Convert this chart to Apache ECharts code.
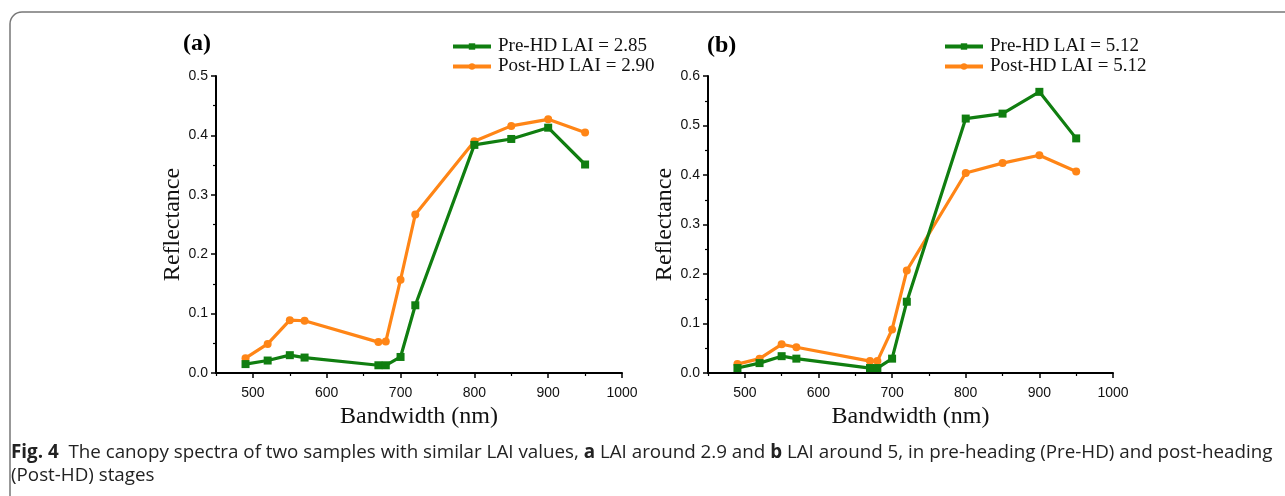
<!DOCTYPE html>
<html>
<head>
<meta charset="utf-8">
<script src="https://cdn.jsdelivr.net/npm/echarts@6/dist/echarts.min.js"></script>
<style>
  html, body { margin: 0; padding: 0; background: #fff; }
  #chart { width: 1285px; height: 496px; }
</style>
</head>
<body>
<div id="chart"></div>
<script>
// 波段 (nm)
const bands = [490, 520, 550, 570, 670, 680, 700, 720, 800, 850, 900, 950];
const xMajor = [500, 600, 700, 800, 900, 1000];
const xMinor = [450, 550, 650, 750, 850, 950];

// (a) LAI around 2.9
const preA = [0.015, 0.021, 0.030, 0.026, 0.013, 0.013, 0.027, 0.114, 0.384, 0.394, 0.413, 0.351];
const postA = [0.025, 0.049, 0.089, 0.088, 0.052, 0.053, 0.157, 0.267, 0.390, 0.416, 0.427, 0.405];

// (b) LAI around 5
const preB = [0.010, 0.020, 0.034, 0.029, 0.010, 0.010, 0.029, 0.144, 0.514, 0.524, 0.568, 0.474];
const postB = [0.018, 0.029, 0.058, 0.052, 0.024, 0.024, 0.088, 0.207, 0.404, 0.424, 0.440, 0.407];

const legendA = ['Pre-HD LAI = 2.85', 'Post-HD LAI = 2.90'];
const legendB = ['Pre-HD LAI = 5.12', 'Post-HD LAI = 5.12 '];

const GREEN = '#107E10';
const ORANGE = '#FF8516';
const SERIF = '"Liberation Serif", "Times New Roman", serif';
const SANS = '"Liberation Sans", Arial, sans-serif';

function pairs(xs, ys) {
  return xs.map((x, i) => [x, ys[i]]);
}

// 主刻度轴（带标签）
function xAxisOf(idx) {
  return {
    gridIndex: idx,
    type: 'value',
    position: 'bottom',
    min: 450,
    max: 1000,
    interval: 50,
    name: 'Bandwidth (nm)',
    nameLocation: 'middle',
    nameGap: 32,
    nameTextStyle: { fontFamily: SERIF, fontSize: 24, color: '#111' },
    axisLine: { lineStyle: { color: '#000', width: 2 } },
    axisTick: { length: 5, customValues: xMajor, lineStyle: { color: '#000', width: 1.5 } },
    axisLabel: {
      fontFamily: SANS, fontSize: 14, color: '#111', margin: 13,
      customValues: xMajor,
      formatter: v => String(v)
    },
    splitLine: { show: false }
  };
}

// 次刻度轴（只画短刻度）
function xMinorAxisOf(idx) {
  return {
    gridIndex: idx,
    type: 'value',
    position: 'bottom',
    min: 450,
    max: 1000,
    interval: 50,
    axisLine: { show: false },
    axisTick: { length: 3, customValues: xMinor, lineStyle: { color: '#000', width: 1.2 } },
    axisLabel: { show: false },
    splitLine: { show: false }
  };
}

function yAxisOf(idx, max) {
  return {
    gridIndex: idx,
    type: 'value',
    min: 0,
    max: max,
    interval: 0.1,
    name: 'Reflectance',
    nameLocation: 'middle',
    nameGap: 30,
    nameTextStyle: { fontFamily: SERIF, fontSize: 24, color: '#111' },
    axisLine: { show: true, lineStyle: { color: '#000', width: 2 } },
    axisTick: { show: true, length: 5, lineStyle: { color: '#000', width: 1.5 } },
    minorTick: { show: true, splitNumber: 2, length: 3, lineStyle: { color: '#000', width: 1.2 } },
    axisLabel: {
      fontFamily: SANS, fontSize: 14, color: '#111', margin: 8,
      formatter: v => v.toFixed(1)
    },
    splitLine: { show: false }
  };
}

function lineSeries(name, idx, ys, color, symbol) {
  return {
    name: name,
    type: 'line',
    xAxisIndex: idx * 2,
    yAxisIndex: idx,
    data: pairs(bands, ys),
    symbol: symbol,
    symbolSize: 8,
    showSymbol: true,
    lineStyle: { color: color, width: 3.2 },
    itemStyle: { color: color },
    z: symbol === 'rect' ? 3 : 2
  };
}

function legendOf(left, names) {
  return {
    orient: 'vertical',
    left: left,
    top: 32,
    itemWidth: 38,
    itemHeight: 8,
    itemGap: 1,
    data: names,
    lineStyle: { width: 4 },
    textStyle: { fontFamily: SERIF, fontSize: 19, color: '#111', padding: [0, 0, 0, 2] }
  };
}

const chart = echarts.init(document.getElementById('chart'));

const option = {
  animation: false,
  backgroundColor: '#fff',
  grid: [
    { left: 216, right: 663, top: 76, bottom: 123 },
    { left: 708, right: 172, top: 76, bottom: 123 }
  ],
  title: [
    { text: '(a)', left: 178, top: 27, textStyle: { fontFamily: SERIF, fontSize: 24, fontWeight: 'bold', color: '#000' } },
    { text: '(b)', left: 702, top: 29, textStyle: { fontFamily: SERIF, fontSize: 24, fontWeight: 'bold', color: '#000' } }
  ],
  legend: [legendOf(446, legendA), legendOf(938, legendB)],
  xAxis: [xAxisOf(0), xMinorAxisOf(0), xAxisOf(1), xMinorAxisOf(1)],
  yAxis: [yAxisOf(0, 0.5), yAxisOf(1, 0.6)],
  series: [
    lineSeries(legendA[0], 0, preA, GREEN, 'rect'),
    lineSeries(legendA[1], 0, postA, ORANGE, 'circle'),
    lineSeries(legendB[0], 1, preB, GREEN, 'rect'),
    lineSeries(legendB[1], 1, postB, ORANGE, 'circle')
  ],
  graphic: [
    {
      type: 'rect',
      shape: { x: 10, y: 12, width: 1300, height: 520, r: 12 },
      style: { fill: 'none', stroke: '#777', lineWidth: 1.5 },
      silent: true
    },
    {
      type: 'text',
      left: 11,
      top: 441,
      style: {
        text: '{b|Fig. 4}  The canopy spectra of two samples with similar LAI values, {b|a} LAI around 2.9 and {b|b} LAI around 5, in pre-heading (Pre-HD) and post-heading\n(Post-HD) stages',
        fontFamily: '"Open Sans", "Noto Sans", sans-serif',
        fontSize: 18.8,
        lineHeight: 23,
        fill: '#222',
        rich: {
          b: { fontFamily: '"Open Sans", "Noto Sans", sans-serif', fontSize: 18.8, fontWeight: 'bold', fill: '#222', lineHeight: 23 }
        }
      }
    }
  ]
};

chart.setOption(option);
</script>
</body>
</html>
